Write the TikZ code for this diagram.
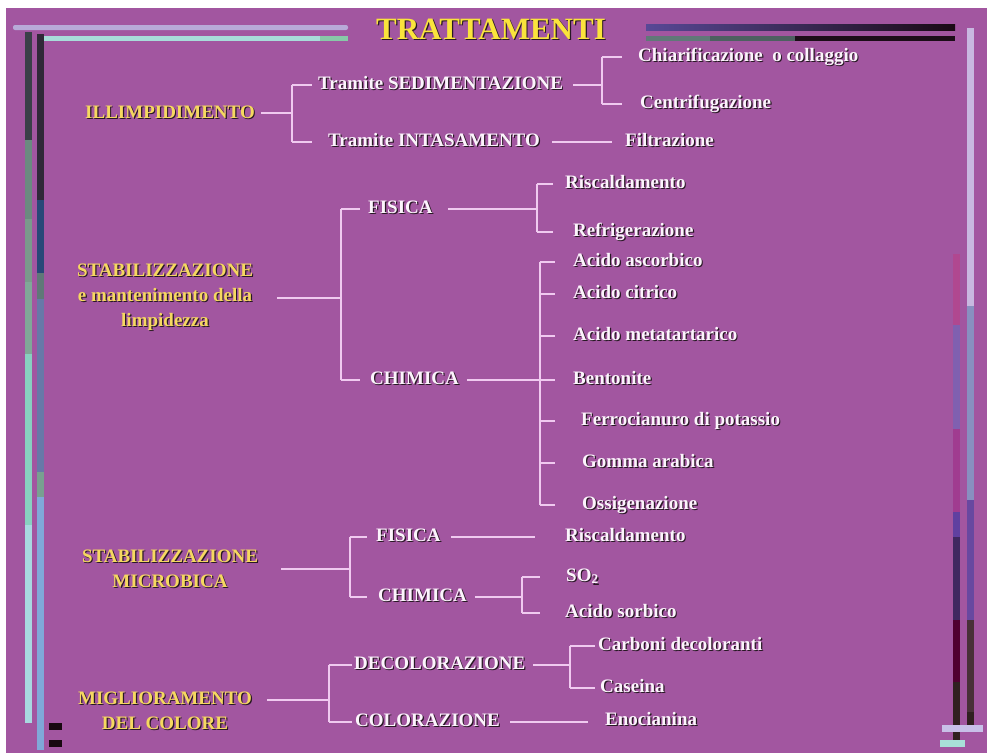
\documentclass[tikz,border=0pt]{standalone}
\usepackage{fontspec}
\setmainfont{Liberation Serif}
\usetikzlibrary{calc,positioning}

\definecolor{bg}{RGB}{162,86,160}
\definecolor{linkc}{RGB}{240,202,240}
\definecolor{leafc}{RGB}{252,244,252}
\definecolor{gold}{RGB}{246,216,96}
\definecolor{titlec}{RGB}{250,228,60}
\definecolor{shade}{RGB}{40,24,36}
% frame bar colours
\definecolor{barlav}{RGB}{184,170,216}
\definecolor{barcyan}{RGB}{168,220,218}
\definecolor{bargreen}{RGB}{136,200,168}
\definecolor{barblue}{RGB}{88,72,150}
\definecolor{barblack}{RGB}{26,10,20}
\definecolor{lba}{RGB}{58,63,72}
\definecolor{lbb}{RGB}{107,138,128}
\definecolor{lbc}{RGB}{122,154,140}
\definecolor{lbd}{RGB}{128,168,152}
\definecolor{lbe}{RGB}{136,208,192}
\definecolor{lbf}{RGB}{168,216,224}
\definecolor{lca}{RGB}{48,40,56}
\definecolor{lcb}{RGB}{40,72,120}
\definecolor{lcc}{RGB}{96,120,120}
\definecolor{lcd}{RGB}{104,120,168}
\definecolor{lce}{RGB}{120,160,144}
\definecolor{lcf}{RGB}{128,168,216}
\definecolor{rba}{RGB}{200,184,224}
\definecolor{rbb}{RGB}{136,144,192}
\definecolor{rbc}{RGB}{104,72,160}
\definecolor{rbd}{RGB}{72,48,56}
\definecolor{rbe}{RGB}{48,32,32}
\definecolor{rca}{RGB}{176,72,144}
\definecolor{rcb}{RGB}{128,96,176}
\definecolor{rcc}{RGB}{160,60,144}
\definecolor{rcd}{RGB}{96,64,160}
\definecolor{rce}{RGB}{64,40,96}
\definecolor{rcf}{RGB}{80,0,48}
\definecolor{capl}{RGB}{200,192,232}
\definecolor{capc}{RGB}{168,224,216}
\definecolor{tickmk}{RGB}{24,8,16}

% text with a dark drop shadow
\newcommand{\shd}[1]{\rlap{\hspace{1.2pt}\raisebox{-1.2pt}{\color{shade}#1}}#1}

\begin{document}
\begin{tikzpicture}[
    x=1pt, y=-1pt,
    font=\bfseries\fontsize{19}{25}\selectfont,
    link/.style={draw=linkc, line width=1.6pt},
    leaf/.style={anchor=west, inner sep=0pt, text=leafc, text height=12pt, text depth=4pt},
    topic/.style={align=center, inner sep=0pt, text=gold},
    heading/.style={inner sep=0pt, text=titlec, font=\bfseries\fontsize{31}{34}\selectfont}
]
\useasboundingbox (0,0) rectangle (987,753);
\fill[white] (0,0) rectangle (987,753);
\fill[bg] (6,8) rectangle (987,753);

% frame bars
\fill[barlav, rounded corners=2pt] (13,25) rectangle (348,30);
\fill[barcyan] (37,36) rectangle (320,41);
\fill[bargreen] (320,36) rectangle (348,41);
\shade[left color=barblue, right color=barblack] (646,24) rectangle (955,30);
\fill[lcc] (646,36) rectangle (710,41);
\fill[lcc!80!black] (710,36) rectangle (795,41);
\fill[barblack!90!lca] (795,36) rectangle (955,41);
\foreach \ya/\yb/\cc in {32/140/lba, 140/219/lbb, 219/282/lbc, 282/354/lbd, 354/525/lbe, 525/723/lbf}
    \fill[\cc] (25,\ya) rectangle (32,\yb);
\foreach \ya/\yb/\cc in {34/200/lca, 200/273/lcb, 273/299/lcc, 299/472/lcd, 472/497/lce, 497/750/lcf}
    \fill[\cc] (37,\ya) rectangle (44,\yb);
\foreach \ya/\yb/\cc in {28/306/rba, 306/500/rbb, 500/620/rbc, 620/712/rbd, 712/726/rbe}
    \fill[\cc] (967,\ya) rectangle (974,\yb);
\foreach \ya/\yb/\cc in {254/325/rca, 325/429/rcb, 429/512/rcc, 512/537/rcd, 537/620/rce, 620/682/rcf, 682/746/rbe}
    \fill[\cc] (953,\ya) rectangle (960,\yb);
\fill[capl] (942,725) rectangle (983,732);
\fill[capc] (940,740) rectangle (965,747);
\fill[tickmk] (49,723) rectangle (62,730);
\fill[tickmk] (49,740) rectangle (62,747);

\node[heading] (title) at (491,30) {\shd{TRATTAMENTI}};

% illimpidimento
\node[topic] (ill) at (170,113) {\shd{ILLIMPIDIMENTO}};
\node[leaf] (sed) at (318,85) {\shd{Tramite SEDIMENTAZIONE}};
\node[leaf] (int) at (328,142) {\shd{Tramite INTASAMENTO}};
\node[leaf] (chia) at (638,57) {\shd{Chiarificazione\ \ o collaggio}};
\node[leaf] (centr) at (640,104) {\shd{Centrifugazione}};
\node[leaf] (filt) at (625,142) {\shd{Filtrazione}};

% stabilizzazione e limpidezza
\node[topic] (stab) at (165,298) {\shd{STABILIZZAZIONE}\\\shd{e mantenimento della}\\\shd{limpidezza}};
\node[leaf] (fis1) at (368,209) {\shd{FISICA}};
\node[leaf] (chi1) at (370,380) {\shd{CHIMICA}};
\node[leaf] (ris1) at (565,184) {\shd{Riscaldamento}};
\node[leaf] (refr) at (573,232) {\shd{Refrigerazione}};
\node[leaf] (aa) at (573,262) {\shd{Acido ascorbico}};
\node[leaf] (ac) at (573,294) {\shd{Acido citrico}};
\node[leaf] (am) at (573,336) {\shd{Acido metatartarico}};
\node[leaf] (be) at (573,380) {\shd{Bentonite}};
\node[leaf] (fe) at (581,421) {\shd{Ferrocianuro di potassio}};
\node[leaf] (go) at (582,463) {\shd{Gomma arabica}};
\node[leaf] (os) at (582,505) {\shd{Ossigenazione}};

% stabilizzazione microbica
\node[topic] (micro) at (170,569) {\shd{STABILIZZAZIONE}\\\shd{MICROBICA}};
\node[leaf] (fis2) at (376,537) {\shd{FISICA}};
\node[leaf] (chi2) at (378,597) {\shd{CHIMICA}};
\node[leaf] (ris2) at (565,537) {\shd{Riscaldamento}};
\node[leaf] (so2) at (566,577) {\shd{SO\textsubscript{2}}};
\node[leaf] (sorb) at (565,613) {\shd{Acido sorbico}};

% colore
\node[topic] (col) at (165,711) {\shd{MIGLIORAMENTO}\\\shd{DEL COLORE}};
\node[leaf] (deco) at (354,665) {\shd{DECOLORAZIONE}};
\node[leaf] (colo) at (355,722) {\shd{COLORAZIONE}};
\node[leaf] (carb) at (598,646) {\shd{Carboni decoloranti}};
\node[leaf] (case) at (600,688) {\shd{Caseina}};
\node[leaf] (eno) at (605,721) {\shd{Enocianina}};

% junctions
\coordinate (j1) at (292,113);
\coordinate (j2) at (602,85);
\coordinate (j3) at (341,298);
\coordinate (j4) at (537,209);
\coordinate (j5) at (540,380);
\coordinate (j6) at (350,569);
\coordinate (j7) at (522,597);
\coordinate (j8) at (329,700);
\coordinate (j9) at (570,665);

% connectors
\draw[link] ([xshift=6pt]ill.east) -- (ill.east -| j1);
\draw[link] (j1 |- sed.west) -- (j1 |- int.west);
\foreach \c in {sed,int} \draw[link] (j1 |- \c.west) -- ++(20,0);
\draw[link] ([xshift=10pt]sed.east) -- (sed.east -| j2);
\draw[link] (j2 |- chia.west) -- (j2 |- centr.west);
\foreach \c in {chia,centr} \draw[link] (j2 |- \c.west) -- ++(20,0);
\draw[link] ([xshift=12pt]int.east) -- ([xshift=-13pt]filt.west);

\draw[link] ([xshift=24pt]stab.east) -- (stab.east -| j3);
\draw[link] (j3 |- fis1.west) -- (j3 |- chi1.west);
\foreach \c in {fis1,chi1} \draw[link] (j3 |- \c.west) -- ++(19,0);
\draw[link] ([xshift=15pt]fis1.east) -- (fis1.east -| j4);
\draw[link] (j4 |- ris1.west) -- (j4 |- refr.west);
\foreach \c in {ris1,refr} \draw[link] (j4 |- \c.west) -- ++(16,0);
\draw[link] ([xshift=8pt]chi1.east) -- (chi1.east -| j5);
\draw[link] (j5 |- aa.west) -- (j5 |- os.west);
\foreach \c in {aa,ac,am,be,fe,go,os} \draw[link] (j5 |- \c.west) -- ++(15,0);

\draw[link] ([xshift=23pt]micro.east) -- (micro.east -| j6);
\draw[link] (j6 |- fis2.west) -- (j6 |- chi2.west);
\foreach \c in {fis2,chi2} \draw[link] (j6 |- \c.west) -- ++(17,0);
\draw[link] ([xshift=10pt]fis2.east) -- ([xshift=-30pt]ris2.west);
\draw[link] ([xshift=8pt]chi2.east) -- (chi2.east -| j7);
\draw[link] (j7 |- so2.west) -- (j7 |- sorb.west);
\foreach \c in {so2,sorb} \draw[link] (j7 |- \c.west) -- ++(18,0);

\draw[link] ($(col.east |- j8)+(15,0)$) -- (j8);
\draw[link] (j8 |- deco.west) -- (j8 |- colo.west);
\foreach \c in {deco,colo} \draw[link] (j8 |- \c.west) -- ++(23,0);
\draw[link] ([xshift=8pt]deco.east) -- (deco.east -| j9);
\draw[link] (j9 |- carb.west) -- (j9 |- case.west);
\foreach \c in {carb,case} \draw[link] (j9 |- \c.west) -- ++(25,0);
\draw[link] ([xshift=10pt]colo.east) -- ($(colo.east -| eno.west)+(-17,0)$);
\end{tikzpicture}
\end{document}
